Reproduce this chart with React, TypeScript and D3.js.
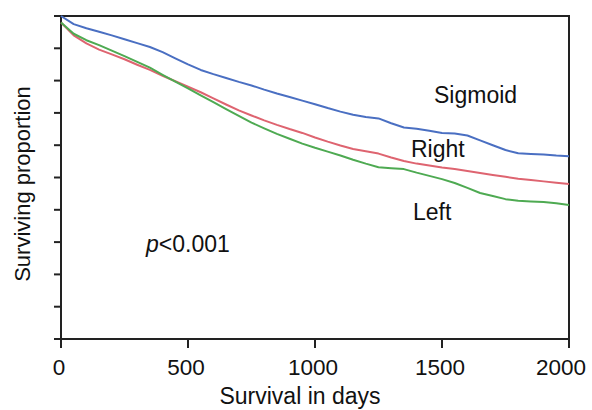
import React, { useEffect, useRef } from 'react';
import * as d3 from 'd3';

const days = d3.range(0, 2001, 50);
const sigmoid = [1.0, 0.975, 0.962, 0.951, 0.94, 0.928, 0.916, 0.904, 0.888, 0.869, 0.85, 0.833, 0.82, 0.808, 0.796, 0.785, 0.772, 0.76, 0.749, 0.738, 0.727, 0.715, 0.704, 0.694, 0.687, 0.683, 0.668, 0.655, 0.651, 0.645, 0.638, 0.636, 0.63, 0.615, 0.6, 0.585, 0.575, 0.573, 0.571, 0.568, 0.566];
const right = [0.98, 0.94, 0.915, 0.896, 0.881, 0.866, 0.849, 0.833, 0.815, 0.798, 0.781, 0.764, 0.745, 0.726, 0.708, 0.692, 0.677, 0.663, 0.65, 0.638, 0.624, 0.611, 0.599, 0.588, 0.581, 0.574, 0.562, 0.551, 0.543, 0.537, 0.531, 0.526, 0.52, 0.514, 0.508, 0.502, 0.496, 0.492, 0.488, 0.484, 0.48];
const left = [0.98, 0.945, 0.925, 0.91, 0.893, 0.876, 0.858, 0.84, 0.818, 0.797, 0.776, 0.754, 0.733, 0.712, 0.691, 0.67, 0.652, 0.635, 0.62, 0.605, 0.592, 0.58, 0.568, 0.555, 0.543, 0.532, 0.529, 0.526, 0.515, 0.505, 0.495, 0.483, 0.468, 0.452, 0.443, 0.433, 0.428, 0.426, 0.424, 0.42, 0.415];

const xTicks = [0, 500, 1000, 1500, 2000];
const yTicks = d3.range(0, 1.001, 0.1);

const series = [
  { name: 'Sigmoid', values: sigmoid, color: '#4a6fc2', lx: 434, ly: 103 },
  { name: 'Right', values: right, color: '#de6470', lx: 411, ly: 157 },
  { name: 'Left', values: left, color: '#4eaa52', lx: 413, ly: 220 },
];

const App = () => {
  const ref = useRef<SVGSVGElement>(null);
  const margin = { top: 16, right: 23, bottom: 71, left: 61 };
  const width = 592, height = 410;

  useEffect(() => {
    const svg = d3.select(ref.current);
    svg.selectAll('*').remove();
    const font = 'Liberation Sans, Arial, sans-serif';

    const x = d3.scaleLinear().domain([0, 2000]).range([margin.left, width - margin.right]);
    const y = d3.scaleLinear().domain([0, 1]).range([height - margin.bottom, margin.top]);

    // frame
    svg.append('rect')
      .attr('x', x(0)).attr('y', y(1))
      .attr('width', x(2000) - x(0)).attr('height', y(0) - y(1))
      .attr('fill', 'none').attr('stroke', '#222').attr('stroke-width', 2);

    // x ticks
    svg.selectAll('.xt').data(xTicks).enter().append('line')
      .attr('x1', d => x(d)).attr('x2', d => x(d))
      .attr('y1', y(0)).attr('y2', y(0) + 9)
      .attr('stroke', '#222').attr('stroke-width', 2);
    // last label is pushed in so it stays on the page
    svg.selectAll('.xl').data(xTicks).enter().append('text')
      .attr('x', (d, i) => i === xTicks.length - 1 ? width - 6 : x(d) - 2)
      .attr('y', y(0) + 36)
      .attr('text-anchor', (d, i) => i === xTicks.length - 1 ? 'end' : 'middle')
      .attr('font-family', font).attr('font-size', 22.5).attr('fill', '#111')
      .text(d => d);

    // y ticks, no labels
    svg.selectAll('.yt').data(yTicks).enter().append('line')
      .attr('x1', x(0) - 7).attr('x2', x(0))
      .attr('y1', d => y(d)).attr('y2', d => y(d))
      .attr('stroke', '#222').attr('stroke-width', 2);

    const line = d3.line<number>()
      .x((d, i) => x(days[i]))
      .y(d => y(d));

    series.forEach(s => {
      svg.append('path')
        .datum(s.values)
        .attr('fill', 'none')
        .attr('stroke', s.color)
        .attr('stroke-width', 2)
        .attr('stroke-linejoin', 'round')
        .attr('d', line);
      svg.append('text')
        .attr('x', s.lx).attr('y', s.ly)
        .attr('font-family', font).attr('font-size', 23).attr('fill', '#111')
        .text(s.name);
    });

    // p value
    const p = svg.append('text')
      .attr('x', 146).attr('y', 252)
      .attr('font-family', font).attr('font-size', 23).attr('fill', '#111');
    p.append('tspan').attr('font-style', 'italic').text('p');
    p.append('tspan').text('<0.001');

    // axis titles
    svg.append('text')
      .attr('x', 300).attr('y', 404)
      .attr('text-anchor', 'middle')
      .attr('font-family', font).attr('font-size', 23).attr('fill', '#111')
      .text('Survival in days');
    svg.append('text')
      .attr('transform', 'translate(30,184) rotate(-90)')
      .attr('text-anchor', 'middle')
      .attr('font-family', font).attr('font-size', 22).attr('fill', '#111')
      .text('Surviving proportion');
  }, []);

  return (
    <svg ref={ref} width={width} height={height}
      style={{ position: 'absolute', left: 0, top: 0, background: '#fff' }} />
  );
};

export default App;
